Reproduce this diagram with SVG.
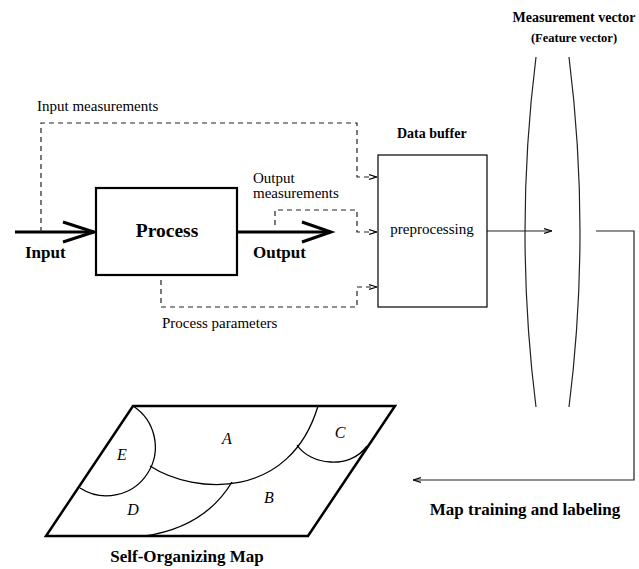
<svg xmlns="http://www.w3.org/2000/svg" width="639" height="569" viewBox="0 0 639 569">
<style>
.t{font-family:"Liberation Serif",serif;fill:#000}
.b{font-weight:bold}
.r{font-size:15px}
.i{font-style:italic;font-size:16px}
.dash{fill:none;stroke:#222;stroke-width:1.2;stroke-dasharray:5,4}
.thin{fill:none;stroke:#222;stroke-width:1.2}
.thick{fill:none;stroke:#000;stroke-width:3}
.arc{fill:none;stroke:#000;stroke-width:1.3}
</style>
<defs>
<marker id="sm" viewBox="0 0 10 10" refX="10" refY="5" markerWidth="8" markerHeight="8" markerUnits="userSpaceOnUse" orient="auto">
<path d="M0,2 L10,5 L0,8" fill="none" stroke="#000" stroke-width="1.4"/>
</marker>
</defs>
<rect width="639" height="569" fill="#fff"/>
<g id="connectors">
<path class="thick" d="M15,232 H94"/>
<path class="thick" d="M63,222 L94,232 L63,242"/>
<path class="thick" d="M237,232 H331"/>
<path class="thick" d="M302,222 L331,232 L302,242"/>
<path class="dash" d="M41,232 V123 H357 V177 H377" marker-end="url(#sm)"/>
<path class="dash" d="M275,225 V210 H357 V232 H377" marker-end="url(#sm)"/>
<path class="dash" d="M161,280 V307 H357 V287 H377" marker-end="url(#sm)"/>
<path class="thin" d="M487,231 H552" marker-end="url(#sm)"/>
<path class="thin" d="M596,231 H634 V480 H413" marker-end="url(#sm)"/>
</g>
<g id="process">
<rect x="96" y="188" width="141" height="87" fill="#fff" stroke="#000" stroke-width="2.2"/>
<text class="t b" x="167" y="237" font-size="19.5" text-anchor="middle">Process</text>
</g>
<g id="input-label"><text class="t b" x="25" y="258" font-size="17">Input</text></g>
<g id="output-label"><text class="t b" x="253" y="258" font-size="17">Output</text></g>
<g id="input-measurements"><text class="t r" x="37" y="111">Input measurements</text></g>
<g id="output-measurements"><text class="t r" x="253" y="183">Output</text><text class="t r" x="253" y="198">measurements</text></g>
<g id="process-parameters"><text class="t r" x="162" y="328">Process parameters</text></g>
<g id="data-buffer">
<rect x="378" y="155" width="109" height="152" fill="#fff" stroke="#000" stroke-width="1.2"/>
<text class="t b" x="397" y="138" font-size="14">Data buffer</text>
<text class="t r" x="432" y="234" text-anchor="middle">preprocessing</text>
</g>
<g id="measurement-vector">
<path class="thin" d="M536,57 Q514,232 536,407"/>
<path class="thin" d="M569,57 Q591,232 569,407"/>
<text class="t b" x="574" y="22" font-size="14" text-anchor="middle">Measurement vector</text>
<text class="t b" x="574" y="42" font-size="12.5" text-anchor="middle">(Feature vector)</text>
</g>
<g id="map-training"><text class="t b" x="525" y="515" font-size="17" text-anchor="middle">Map training and labeling</text></g>
<g id="som">
<path d="M133,406 H395 L308,536 H46 Z" fill="none" stroke="#000" stroke-width="2.5" stroke-linejoin="miter"/>
<path class="arc" d="M133,406 A48,48 0 1 1 80,488"/>
<path class="arc" d="M150,466 C195,495 290,500 318,406"/>
<path class="arc" d="M297,445 C310,465 350,470 367,446"/>
<path class="arc" d="M232,482 Q205,527 145,536"/>
<text class="t i" x="227" y="444" text-anchor="middle">A</text>
<text class="t i" x="340" y="438" text-anchor="middle">C</text>
<text class="t i" x="122" y="460" text-anchor="middle">E</text>
<text class="t i" x="133" y="515" text-anchor="middle">D</text>
<text class="t i" x="269" y="503" text-anchor="middle">B</text>
<text class="t b" x="187" y="562" font-size="17" text-anchor="middle">Self-Organizing Map</text>
</g>
</svg>
